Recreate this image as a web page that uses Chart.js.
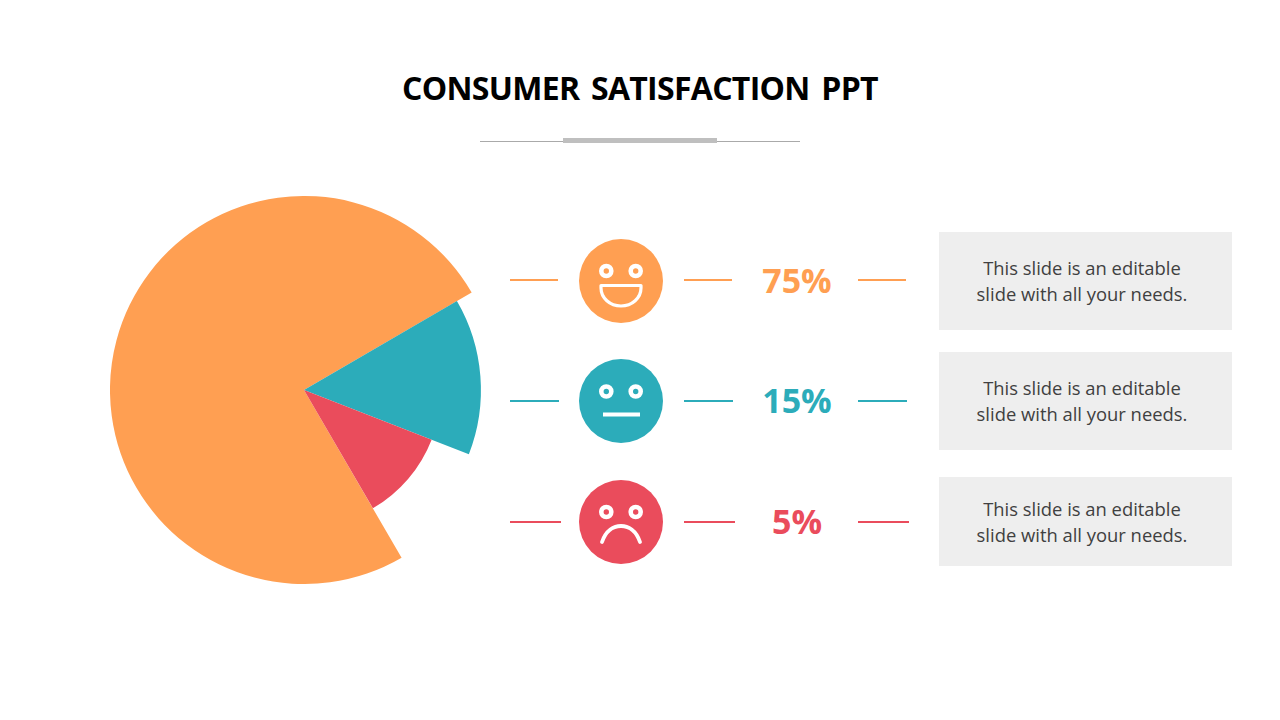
<!DOCTYPE html>
<html>
<head>
<meta charset="utf-8">
<title>Consumer satisfaction</title>
<script src="https://cdn.jsdelivr.net/npm/chart.js@4"></script>
<style>
    html, body { margin: 0; padding: 0; background: #fff; }
    #slide { position: relative; width: 1280px; height: 720px; overflow: hidden; font-family: "Open Sans", sans-serif; }
    #slide > * { position: absolute; }
    #title { left: 0; width: 1280px; top: 65px; text-align: center; font-size: 32px; line-height: 45px; font-weight: 700; color: #000; word-spacing: 4px; letter-spacing: -0.7px; }
    #pie-wrap { left: 110px; top: 196px; width: 388px; height: 388px; }
    #overlay { left: 0; top: 0; }
    .pct { left: 737px; width: 120px; text-align: center; font-size: 34px; line-height: 46px; font-weight: 700; }
    .note { left: 939px; width: 286px; padding-right: 7px; background: #eee; color: #404040; font-size: 18.4px; line-height: 26px; text-align: center; display: flex; align-items: center; justify-content: center; }
</style>
</head>
<body>
<div id="slide">
    <div id="title">CONSUMER SATISFACTION PPT</div>

    <svg id="overlay" width="1280" height="720" xmlns="http://www.w3.org/2000/svg">
        <!-- title rule -->
        <rect x="480" y="141" width="320" height="1" fill="#aaaaaa"/>
        <rect x="563" y="138" width="154" height="5" fill="#bfbfbf"/>

        <!-- connector lines -->
        <g stroke="#FF9F52" stroke-width="2">
            <line x1="510" y1="280" x2="558" y2="280"/>
            <line x1="684" y1="280" x2="732" y2="280"/>
            <line x1="858" y1="280" x2="906" y2="280"/>
        </g>
        <g stroke="#2CACBA" stroke-width="2">
            <line x1="510" y1="401" x2="559" y2="401"/>
            <line x1="684" y1="401" x2="733" y2="401"/>
            <line x1="858" y1="401" x2="907" y2="401"/>
        </g>
        <g stroke="#EA4C5C" stroke-width="2">
            <line x1="510" y1="522" x2="561" y2="522"/>
            <line x1="684" y1="522" x2="735" y2="522"/>
            <line x1="858" y1="522" x2="909" y2="522"/>
        </g>

        <!-- happy -->
        <g transform="translate(621 281)">
            <circle r="42" fill="#FF9F52"/>
            <circle cx="-14.7" cy="-10" r="5" fill="none" stroke="#fff" stroke-width="4.6"/>
            <circle cx="14.7" cy="-10" r="5" fill="none" stroke="#fff" stroke-width="4.6"/>
            <path d="M-20 4.5 H20 V7 A20 18 0 0 1 -20 7 Z" fill="none" stroke="#fff" stroke-width="3.2" stroke-linejoin="round"/>
        </g>
        <!-- neutral -->
        <g transform="translate(621 401)">
            <circle r="42" fill="#2CACBA"/>
            <circle cx="-14.7" cy="-9.5" r="5" fill="none" stroke="#fff" stroke-width="4.6"/>
            <circle cx="14.7" cy="-9.5" r="5" fill="none" stroke="#fff" stroke-width="4.6"/>
            <rect x="-18" y="11.5" width="37" height="4" fill="#fff"/>
        </g>
        <!-- sad -->
        <g transform="translate(621 522)">
            <circle r="42" fill="#EA4C5C"/>
            <circle cx="-14.7" cy="-10" r="5" fill="none" stroke="#fff" stroke-width="4.6"/>
            <circle cx="14.7" cy="-10" r="5" fill="none" stroke="#fff" stroke-width="4.6"/>
            <path d="M-19 20 C-15 8 -7 4 0 4 C7 4 15 8 19 20" fill="none" stroke="#fff" stroke-width="3.8" stroke-linecap="round"/>
        </g>
    </svg>

    <div id="pie-wrap"><canvas id="pie" width="388" height="388"></canvas></div>

    <div class="pct" style="top: 257px; color: #FF9F52">75%</div>
    <div class="pct" style="top: 377px; color: #2CACBA">15%</div>
    <div class="pct" style="top: 498px; color: #EA4C5C">5%</div>

    <div class="note" style="top: 232px; height: 98px">This slide is an editable<br>slide with all your needs.</div>
    <div class="note" style="top: 352px; height: 98px">This slide is an editable<br>slide with all your needs.</div>
    <div class="note" style="top: 477px; height: 89px">This slide is an editable<br>slide with all your needs.</div>
</div>

<script>
// sweep of each slice in percent, and how far each one reaches
const categories = ['Satisfied', 'Neutral', 'Unsatisfied'];
const sliceShare = [75, 14.3, 10.7];
const sliceReach = [100, 91.2, 70.6];
const sliceColors = ['#FF9F52', '#2CACBA', '#EA4C5C'];

new Chart(document.getElementById('pie'), {
    type: 'polarArea',
    data: {
        labels: categories,
        datasets: [{
            data: sliceReach,
            backgroundColor: sliceColors,
            borderWidth: 0,
            angle: (ctx) => sliceShare[ctx.dataIndex] * 3.6
        }]
    },
    options: {
        responsive: false,
        animation: false,
        layout: { padding: 0 },
        scales: {
            r: { display: false, min: 0, max: 100, startAngle: 149.8 }
        },
        plugins: {
            legend: { display: false },
            tooltip: { enabled: false }
        }
    }
});
</script>
</body>
</html>
